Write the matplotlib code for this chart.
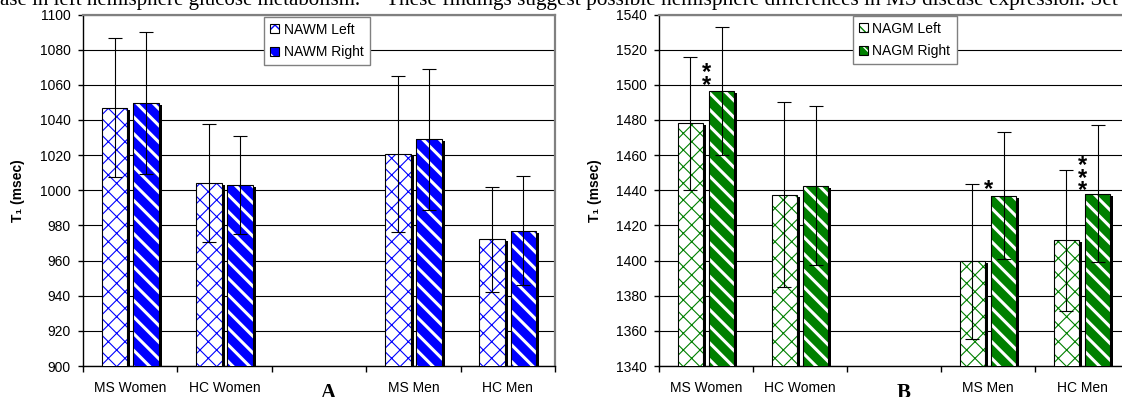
import numpy as np
import matplotlib
matplotlib.use("Agg")
import matplotlib.pyplot as plt
import matplotlib.transforms as mtransforms
from matplotlib.patches import Patch

plt.rcParams['font.family'] = ['Liberation Sans', 'DejaVu Sans']

# --- data ---
categories = ['MS Women', 'HC Women', '', 'MS Men', 'HC Men']
group_pos = [0, 1, 3, 4]

nawm_left = [1047, 1004, 1020.5, 972]
nawm_left_sd = [39.5, 33.5, 44.5, 29.7]
nawm_right = [1049.5, 1003, 1029, 977]
nawm_right_sd = [40.5, 28, 40, 31]

nagm_left = [1478, 1437.5, 1399.5, 1411.5]
nagm_left_sd = [37.7, 52.7, 44, 40]
nagm_right = [1496.5, 1442.5, 1437, 1438]
nagm_right_sd = [36.5, 45.3, 36, 39]

# significance asterisks (right panel): category, number of stars, lowest star height
star_cat = [0, 3, 4]
star_count = [2, 1, 3]
star_low = [1502.5, 1443, 1442.5]

W, H = 1122, 397
fig = plt.figure(figsize=(W / 100, H / 100), dpi=100)

# page text cut off above the figure
serif = ['Liberation Serif', 'DejaVu Serif']
fig.text(0.0, 1 - 5 / H, "ase in left hemisphere glucose metabolism.",
         family=serif, fontsize=15, va='baseline', ha='left')
fig.text(386 / W, 1 - 5 / H,
         "These findings suggest possible hemisphere differences in MS disease expression. Set",
         family=serif, fontsize=15.3, va='baseline', ha='left')


def hatched_bars(ax, xs, vals, width, face, hcolor, hatch, hlw, **kw):
    with plt.rc_context({'hatch.linewidth': hlw}):
        bars = ax.bar(xs, vals, width, facecolor=face, edgecolor=hcolor,
                      hatch=hatch, lw=0, **kw)
    for b in bars:
        if hasattr(b, 'set_hatch_linewidth'):
            b.set_hatch_linewidth(hlw)
    return bars


def panel(ax, left, left_sd, right, right_sd, color, ylim, names, leg_xy):
    x = np.array(group_pos, dtype=float)
    w = 0.27
    xl = x - 0.165
    xr = x + 0.165
    shadow = ax.transData + mtransforms.ScaledTranslation(0.03, -0.02, fig.dpi_scale_trans)

    for xs, vals in ((xl, left), (xr, right)):
        ax.bar(xs, vals, w, color='black', lw=0, transform=shadow, zorder=2)

    hatched_bars(ax, xl, left, w, 'white', color, 'xx', 0.8, zorder=3)
    hatched_bars(ax, xr, right, w, color, 'white', '\\\\', 2.2, zorder=3)
    for xs, vals in ((xl, left), (xr, right)):
        ax.bar(xs, vals, w, fill=False, edgecolor='black', lw=0.8, zorder=4)

    for xs, vals, sd in ((xl, left, left_sd), (xr, right, right_sd)):
        ax.errorbar(xs, vals, yerr=sd, fmt='none', ecolor='black',
                    elinewidth=0.8, capsize=5, capthick=0.8, zorder=5)

    ax.set_ylim(*ylim)
    ax.set_yticks(np.arange(ylim[0], ylim[1] + 1, 20))
    ax.set_xlim(-0.5, 4.5)
    ax.set_xticks(range(len(categories)))
    ax.set_xticklabels(categories)
    ax.set_xticks(np.arange(-0.5, 5, 1), minor=True)
    ax.tick_params(axis='x', which='major', length=0, pad=10.5, labelsize=10)
    ax.tick_params(axis='x', which='minor', length=4, width=1, direction='out')
    ax.tick_params(axis='y', length=3.6, width=1, direction='out', pad=5.3, labelsize=10)

    ax.yaxis.grid(True, color='black', lw=0.8)
    ax.set_axisbelow(True)
    for s in ('left', 'bottom'):
        ax.spines[s].set_color('black')
        ax.spines[s].set_linewidth(1)
    for s in ('top', 'right'):
        ax.spines[s].set_color('#808080')
        ax.spines[s].set_linewidth(1.6)

    ax.set_ylabel('T\u2081 (msec)', fontsize=10, fontweight='bold')
    ax.yaxis.set_label_coords(-0.122, 0.5)

    h1 = (Patch(facecolor='white', edgecolor=color, hatch='xx', lw=0),
          Patch(fill=False, edgecolor='black', lw=0.8))
    h2 = (Patch(facecolor=color, edgecolor='white', hatch='\\\\', lw=0),
          Patch(fill=False, edgecolor='black', lw=0.8))
    leg = ax.legend([h1, h2], names, loc='upper left', bbox_to_anchor=leg_xy,
                    borderaxespad=0, fancybox=False, framealpha=1,
                    edgecolor='#808080', handlelength=0.62, handleheight=0.62,
                    handletextpad=0.35, labelspacing=0.6, borderpad=0.45,
                    fontsize=10)
    leg.get_frame().set_linewidth(1)


bottom = 1 - 366 / H
height = 351.5 / H
ax1 = fig.add_axes([83 / W, bottom, 472 / W, height])
ax2 = fig.add_axes([659 / W, bottom, 470 / W, height])

panel(ax1, nawm_left, nawm_left_sd, nawm_right, nawm_right_sd, '#0000FF',
      (900, 1100), ['NAWM Left', 'NAWM Right'], (0.3835, 0.994))
panel(ax2, nagm_left, nagm_left_sd, nagm_right, nagm_right_sd, '#008000',
      (1340, 1540), ['NAGM Left', 'NAGM Right'], (0.412, 0.997))

# stars stacked upward from the lowest one (baseline = last line)
fs_star = 17
for c, n, yv in zip(star_cat, star_count, star_low):
    ax2.annotate('\n'.join(['*'] * n), (c, yv), xytext=(0, -0.48 * fs_star),
                 textcoords='offset points', ha='center', va='baseline',
                 fontsize=fs_star, fontweight='bold', linespacing=0.42, zorder=6)

fig.text(328 / W, 1 - 383 / H, 'A', family=serif, fontweight='bold',
         fontsize=15, ha='center', va='top')
fig.text(904 / W, 1 - 383 / H, 'B', family=serif, fontweight='bold',
         fontsize=15, ha='center', va='top')

fig.savefig('out.png', dpi=100)
